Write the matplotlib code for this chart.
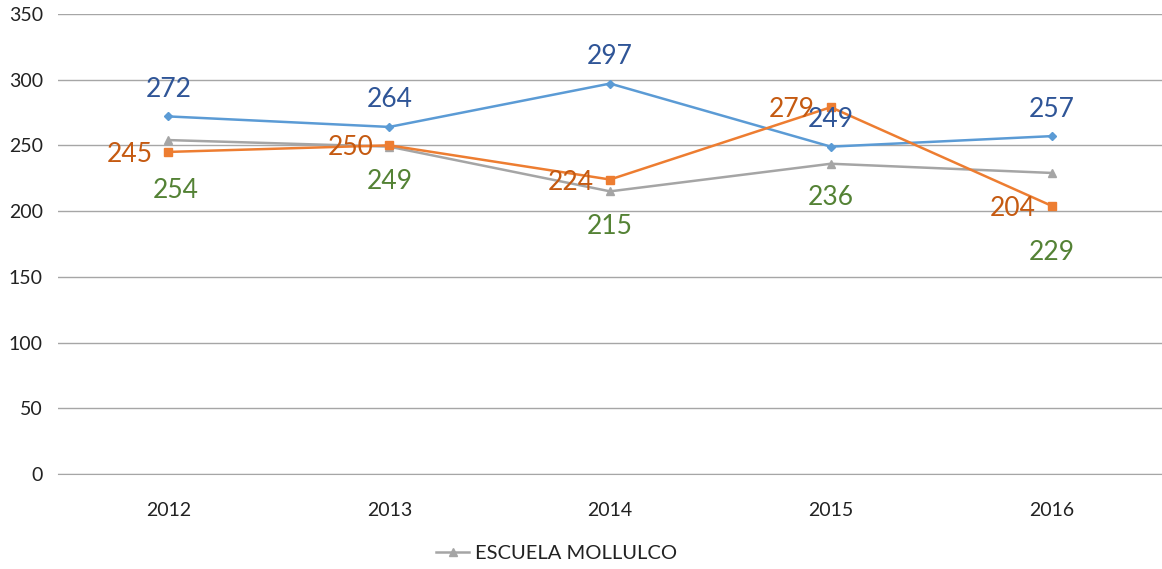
import matplotlib
matplotlib.use("Agg")
import matplotlib.pyplot as plt

plt.rcParams['font.family'] = ['Lato', 'DejaVu Sans']

years = ["2012", "2013", "2014", "2015", "2016"]
blue_vals = [272, 264, 297, 249, 257]
orange_vals = [245, 250, 224, 279, 204]
gray_vals = [254, 249, 215, 236, 229]
legend_label = "ESCUELA MOLLULCO"

# label offsets in points (layout only)
gray_offsets = [(5, -36.5), (0, -25), (0, -25.5), (0, -24.5), (0, -57)]

fig = plt.figure(figsize=(11.62, 5.69), dpi=100)
ax = fig.add_axes([0.05, 0.167, 0.95, 0.8086])

x = list(range(len(years)))
ax.plot(x, blue_vals, color='#5B9BD5', lw=1.8, marker='D', ms=4.5, zorder=3)
ax.plot(x, orange_vals, color='#ED7D31', lw=1.8, marker='s', ms=5.5, zorder=3)
g, = ax.plot(x, gray_vals, color='#A5A5A5', lw=1.8, marker='^', ms=6, zorder=2,
             label=legend_label)

for xi, v in zip(x, blue_vals):
    ax.annotate(str(v), (xi, v), xytext=(0, 19.5), textcoords='offset points',
                ha='center', va='center', fontsize=19, color='#2F5597')
for xi, v in zip(x, orange_vals):
    ax.annotate(str(v), (xi, v), xytext=(-11.5, -1.8), textcoords='offset points',
                ha='right', va='center', fontsize=19, color='#C55A11')
for xi, v, off in zip(x, gray_vals, gray_offsets):
    ax.annotate(str(v), (xi, v), xytext=off, textcoords='offset points',
                ha='center', va='center', fontsize=19, color='#548235')

ax.set_xlim(-0.5, 4.5)
ax.set_ylim(0, 350)
ax.set_yticks(range(0, 351, 50))
ax.set_xticks(x)
ax.set_xticklabels(years)
ax.yaxis.grid(True, color='#A6A6A6', lw=1)
ax.set_axisbelow(True)
for s in ['left', 'right', 'top']:
    ax.spines[s].set_visible(False)
ax.spines['bottom'].set_color('#A6A6A6')
ax.tick_params(axis='both', length=0, labelsize=14, colors='#222222')
ax.tick_params(axis='x', pad=20)
ax.tick_params(axis='y', pad=11)

fig.legend(handles=[g], loc='center', bbox_to_anchor=(0.479, 0.028), frameon=False,
           fontsize=14.5, handlelength=1.6, handletextpad=0.3, labelcolor='#222222')

fig.savefig("out.png", dpi=100)
